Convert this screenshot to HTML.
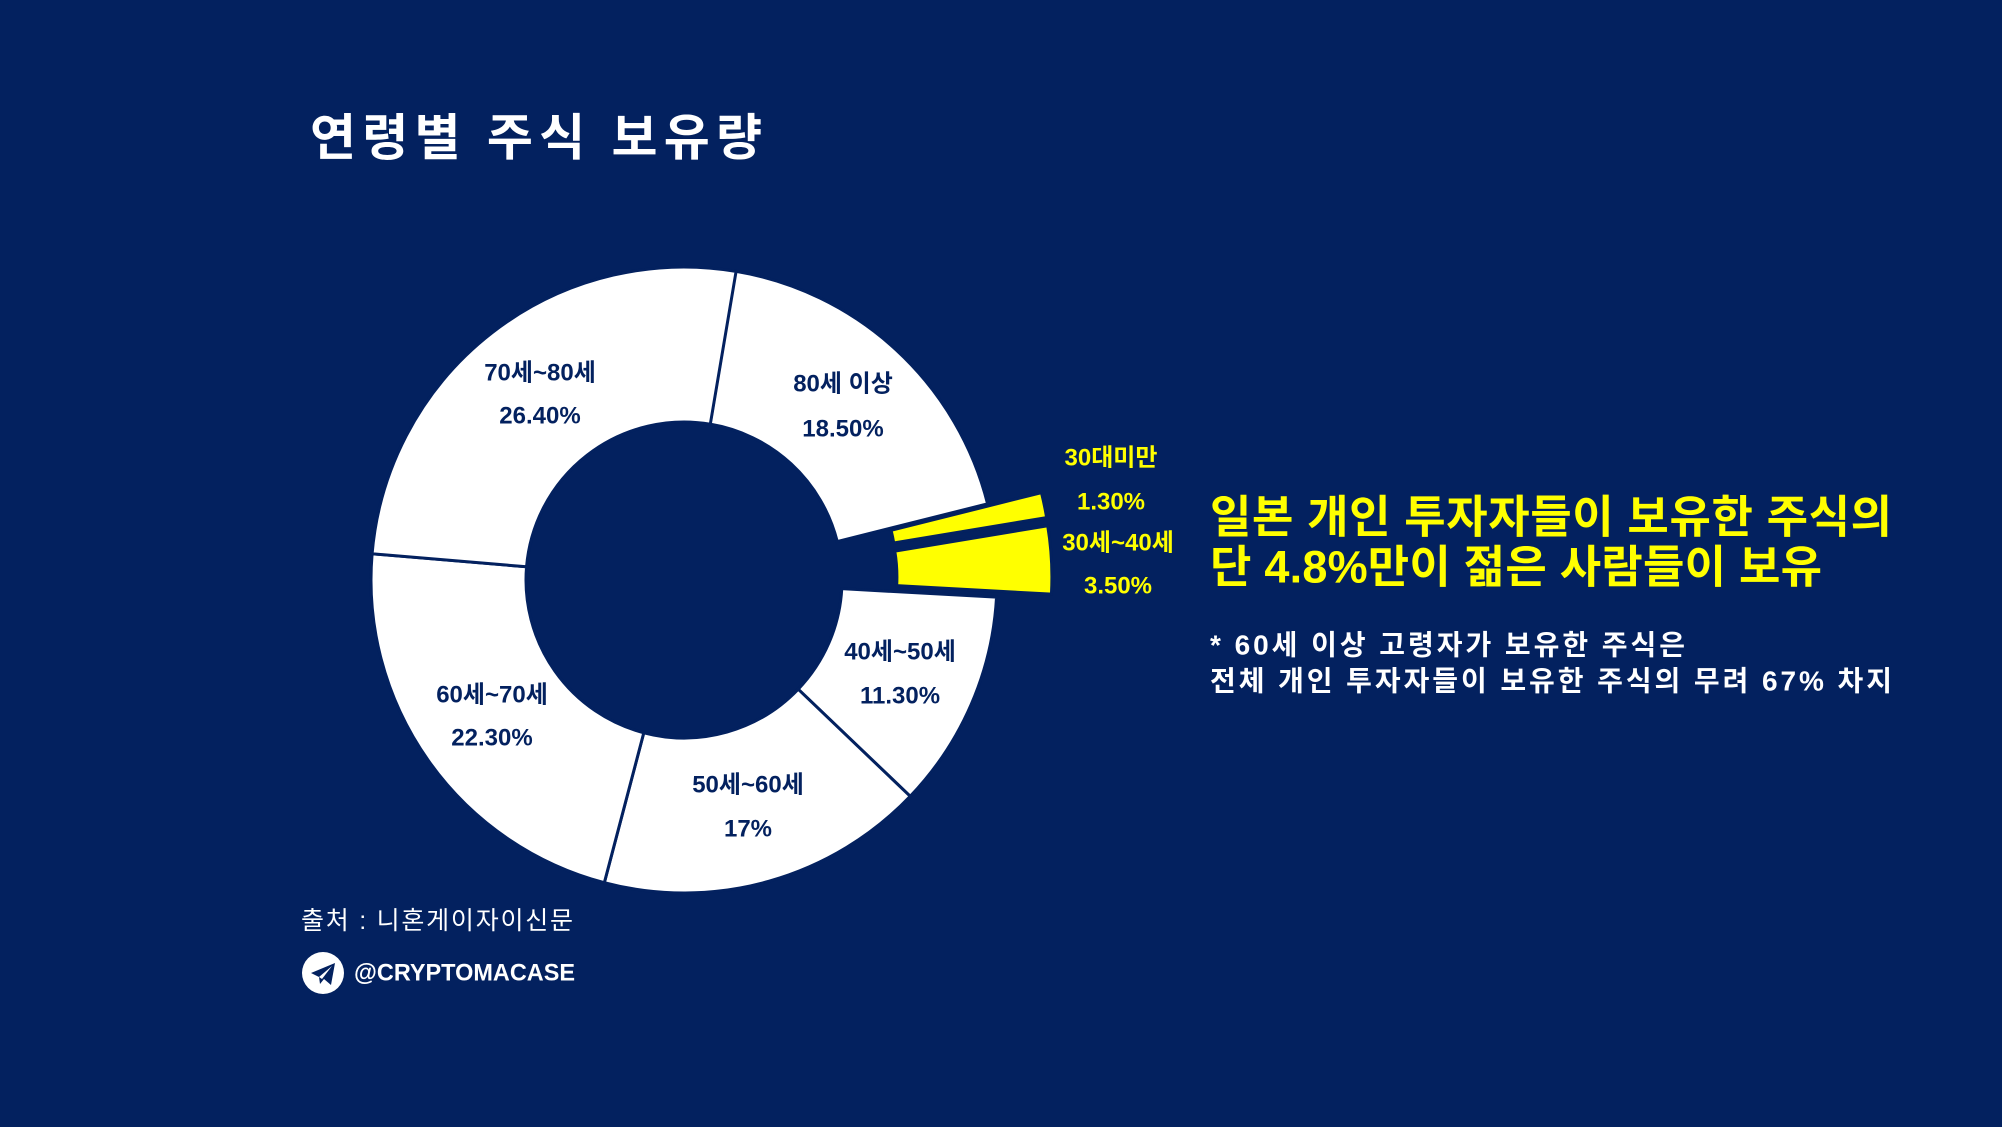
<!DOCTYPE html>
<html><head><meta charset="utf-8"><style>
html,body{margin:0;padding:0;background:#03215f;}
svg{display:block;}
text{font-family:"Liberation Sans","Noto Sans CJK KR",sans-serif;font-weight:bold;}
</style></head><body>
<svg id="s" width="2002" height="1127" viewBox="0 0 2002 1127">
<rect width="2002" height="1127" fill="#03215f"/>
<g id="pie"></g>
<text x="310" y="138" font-size="50" fill="#fff" dominant-baseline="central" textLength="452" lengthAdjust="spacing">연령별 주식 보유량</text>
<g font-size="24" text-anchor="middle" dominant-baseline="central" fill="#03215f">
<text x="540" y="373">70세~80세</text><text x="540" y="416">26.40%</text>
<text x="843" y="384">80세 이상</text><text x="843" y="429">18.50%</text>
<text x="900" y="652">40세~50세</text><text x="900" y="696">11.30%</text>
<text x="748" y="785">50세~60세</text><text x="748" y="829">17%</text>
<text x="492" y="695">60세~70세</text><text x="492" y="738">22.30%</text>
</g>
<g font-size="24" text-anchor="middle" dominant-baseline="central" fill="#ffff00">
<text x="1111" y="458">30대미만</text><text x="1111" y="502">1.30%</text>
<text x="1118" y="543">30세~40세</text><text x="1118" y="586">3.50%</text>
</g>
<g font-size="45" fill="#ffff00" dominant-baseline="central">
<text x="1210" y="517" textLength="682" lengthAdjust="spacing">일본 개인 투자자들이 보유한 주식의</text>
<text x="1210" y="567" textLength="612" lengthAdjust="spacing">단 4.8%만이 젊은 사람들이 보유</text>
</g>
<g font-size="28" fill="#fff" dominant-baseline="central">
<text x="1210" y="645" textLength="475" lengthAdjust="spacing">* 60세 이상 고령자가 보유한 주식은</text>
<text x="1210" y="681" textLength="682" lengthAdjust="spacing">전체 개인 투자자들이 보유한 주식의 무려 67% 차지</text>
</g>
<text x="301" y="921" font-size="25" fill="#fff" style="font-weight:normal" dominant-baseline="central" textLength="272" lengthAdjust="spacing">출처 : 니혼게이자이신문</text>
<circle cx="323" cy="973" r="21" fill="#fff"/>
<path d="M311 973 L335 963 L331 985 L324 979 L320 984 L319 977 Z" fill="#03215f"/>
<path d="M319 977 L332 966 L322 979 Z" fill="#fff"/>
<text x="354" y="973" font-size="24" fill="#fff" dominant-baseline="central" textLength="221" lengthAdjust="spacingAndGlyphs">@CRYPTOMACASE</text>
</svg>
<script>
var cx=684,cy=580,R=313,r=158,g=document.getElementById('pie');
function pt(a,rad){var t=(a-90)*Math.PI/180;return [cx+rad*Math.cos(t),cy+rad*Math.sin(t)];}
function seg(a0,a1,fill,stroke,off){
 var m=(a0+a1)/2,o=pt(m,off);var dx=o[0]-cx,dy=o[1]-cy;
 var p1=pt(a0,R),p2=pt(a1,R),p3=pt(a1,r),p4=pt(a0,r);var lg=(a1-a0)>180?1:0;
 var d='M'+p1+' A'+R+' '+R+' 0 '+lg+' 1 '+p2+' L'+p3+' A'+r+' '+r+' 0 '+lg+' 0 '+p4+' Z';
 var e=document.createElementNS('http://www.w3.org/2000/svg','path');
 e.setAttribute('d',d);e.setAttribute('fill',fill);
 e.setAttribute('stroke',stroke);e.setAttribute('stroke-width','3');
 e.setAttribute('transform','translate('+dx+','+dy+')');g.appendChild(e);}
var data=[[18.5,'#fff',0],[1.3,'#ffff00',55],[3.5,'#ffff00',55],[11.3,'#fff',0],[17,'#fff',0],[22.3,'#fff',0],[26.4,'#fff',0]];
var a=9.5;
data.forEach(function(d){var s=d[0]*3.6*360/361;seg(a,a+s,d[1],'#03215f',d[2]);a+=s;});
</script>
</body></html>
